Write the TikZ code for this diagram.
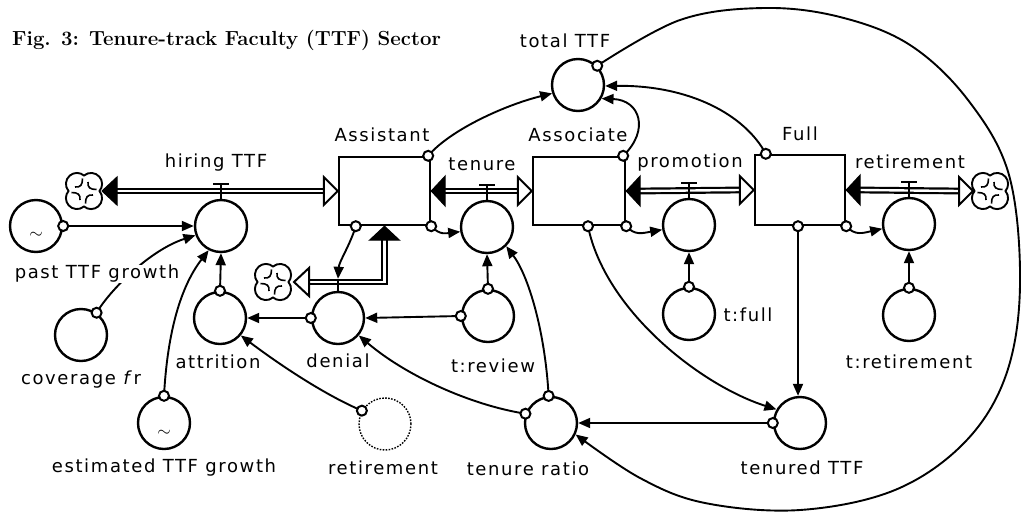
\documentclass[tikz,border=0pt]{standalone}
\usepackage{fontspec}
\newfontfamily\labfont[LetterSpace=9]{DejaVu Sans}
\usetikzlibrary{arrows.meta,calc}
\tikzset{cloudsym/.pic={
  \draw[line width=1.9pt, fill=white] (15.5,0) arc[start angle=-40,end angle=130,radius=11]
     arc[start angle=50,end angle=220,radius=11]
     arc[start angle=140,end angle=310,radius=11]
     arc[start angle=230,end angle=400,radius=11] -- cycle;
  \foreach \r in {0,90,180,270}{
    \draw[line width=1.6pt, rotate=\r] (12.5,-1.5) .. controls (6,-1.5) and (3.5,-3.5) .. (4,-9);
  }
}}
\begin{document}
\begin{tikzpicture}[x=1pt,y=-1pt,
 lab/.style={font=\labfont\fontsize{18}{20}\selectfont, inner sep=0.5pt},
 aux/.style={circle, draw, line width=2.4pt, minimum size=52pt, inner sep=0pt},
 stockbox/.style={rectangle, draw, line width=2.4pt, minimum width=91pt, minimum height=68pt, inner sep=0pt},
 link/.style={line width=1.9pt, -{Triangle[length=12pt,width=10pt]}},
 conn/.style={circle, draw, line width=2pt, fill=white, minimum size=10pt, inner sep=0pt},
 pipe/.style={double, line width=2.2pt, double distance=2.4pt},
 headfull/.style={fill=black, draw=black, line width=1pt, line join=miter},
 headhollow/.style={fill=white, draw=black, line width=2pt, line join=miter},
 valve/.style={line width=2pt},
]
\useasboundingbox (0,0) rectangle (1021,515);

% title
\node[anchor=base west, inner sep=0pt, font=\fontsize{20.4}{24}\selectfont\bfseries] (title) at (12,45) {Fig. 3: Tenure-track Faculty (TTF) Sector};

% stocks
\node[stockbox] (asst) at (384.5,191) {};
\node[stockbox, minimum width=92pt] (assoc) at (579,191) {};
\node[stockbox, minimum width=90pt, minimum height=70pt] (full) at (800,190) {};

% converters
\node[aux] (past) at (36,226) {};
\node[aux] (hire) at (221,226) {};
\node[aux] (cov) at (81,335) {};
\node[aux] (est) at (164,423) {};
\node[aux] (attr) at (220,318) {};
\node[aux] (deny) at (338,318) {};
\node[aux] (ten) at (487,227) {};
\node[aux] (trev) at (488,316) {};
\node[aux, line width=1.4pt, dash pattern=on 1.6pt off 1.4pt] (retA) at (385,424) {};
\node[aux] (ratio) at (551,423) {};
\node[aux] (prom) at (689,225) {};
\node[aux] (tfull) at (689,314) {};
\node[aux] (retF) at (909,224) {};
\node[aux] (tret) at (909,315) {};
\node[aux] (tenured) at (800,423) {};
\node[aux] (total) at (578,85) {};

% tildes
\node[font=\fontsize{18}{18}\selectfont] (tilA) at ($(past)+(0,9)$) {$\sim$};
\node[font=\fontsize{18}{18}\selectfont] (tilB) at ($(est)+(0,10)$) {$\sim$};

% clouds
\coordinate (cl1) at (84,191);
\coordinate (cl2) at (273,282);
\coordinate (cl3) at (990,191);
\pic at (cl1) {cloudsym};
\pic at (cl2) {cloudsym};
\pic at (cl3) {cloudsym};

% pipes
\draw[pipe] ($(cl1)+(33,0)$) -- ($(asst.west)+(-14,0)$);
\draw[headfull] ($(cl1)+(18,0)$) -- ++(15,-14) -- ++(0,28) -- cycle;
\draw[headhollow] (asst.west) -- ++(-14,-14) -- ++(0,28) -- cycle;

\draw[pipe] ($(asst.east)+(14,0)$) -- ($(assoc.west)+(-14,0)$);
\draw[headfull] (asst.east) -- ++(14,-15) -- ++(0,30) -- cycle;
\draw[headhollow] (assoc.west) -- ++(-14,-14) -- ++(0,28) -- cycle;

\draw[pipe] ($(assoc.east)+(14,0)$) -- ($(full.west)+(-14,0)$);
\draw[headfull] (assoc.east) -- ++(14,-15) -- ++(0,30) -- cycle;
\draw[headhollow] (full.west) -- ++(-14,-14) -- ++(0,28) -- cycle;

\draw[pipe] ($(full.east)+(14,0)$) -- ($(cl3)+(-31,0)$);
\draw[headfull] (full.east) -- ++(14,-15) -- ++(0,30) -- cycle;
\draw[headhollow] ($(cl3)+(-17,0)$) -- ++(-14,-14) -- ++(0,28) -- cycle;

\draw[pipe, line join=miter] ($(asst.south)+(0,14)$) |- ($(cl2)+(36,0)$);
\draw[headfull] (asst.south) -- ++(-15,14) -- ++(30,0) -- cycle;
\draw[headhollow] ($(cl2)+(21,0)$) -- ++(15,-14) -- ++(0,28) -- cycle;

% valves
\draw[valve] (hire.north) -- ++(0,-15) ++(-8,0) -- ++(16,0);
\draw[valve] (ten.north) -- ++(0,-15) ++(-8,0) -- ++(16,0);
\draw[valve] (prom.north) -- ++(0,-15) ++(-8,0) -- ++(16,0);
\draw[valve] (retF.north) -- ++(0,-15) ++(-8,0) -- ++(16,0);
\draw[valve] (deny.north) -- ++(0,-12);

% links
\draw[link] (past.east) -- (hire.west);
\draw[link] (cov.55) .. controls (110,290) and (150,250) .. (hire.200);
\draw[link] (est.north) .. controls (167,340) and (178,290) .. (hire.243);
\draw[link] (attr.north) -- (hire.south);
\draw[link] (deny.west) -- (attr.east);
\draw[link] (trev.west) -- (deny.east);
\draw[link] (trev.north) -- (ten.south);
\draw[link] (retA.150) .. controls (325,395) and (280,365) .. (attr.-40);
\draw[link] (ratio.160) .. controls (470,405) and (405,375) .. (deny.-40);
\draw[link] (ratio.95) .. controls (545,330) and (528,275) .. (ten.-45);
\draw[link] (tenured.west) -- (ratio.east);
\draw[link] ($(assoc.south)+(9,0)$) .. controls (605,310) and (700,385) .. (tenured.150);
\draw[link] ($(full.south)+(-2,0)$) -- ($(tenured.north)+(-2,0)$);
\draw[link] (asst.south east) .. controls (440,236) and (448,233) .. (ten.190);
\draw[link] (assoc.south east) .. controls (635,236) and (643,233) .. (prom.190);
\draw[link] (full.south east) .. controls (855,236) and (863,233) .. (retF.190);
\draw[link] (tfull.north) -- (prom.south);
\draw[link] (tret.north) -- (retF.south);
\draw[link] ($(asst.south west)+(18,0)$) .. controls (350,245) and (339,262) .. ($(deny.north)+(0,-12)$);
\draw[link] ($(asst.north east)+(-3,0)$) .. controls (450,130) and (505,105) .. (total.198);
\draw[link] ($(assoc.north east)+(-3,0)$) .. controls (650,130) and (640,100) .. (total.-30);
\draw[link] ($(full.north west)+(12,0)$) .. controls (745,115) and (690,85) .. (total.-2);
\draw[link] plot[smooth, tension=0.6] coordinates {(total.45) (680,20) (764,8) (840,17) (910,45) (968,100) (1009,175) (1020,285) (1006,375) (965,442) (895,490) (800,510) (705,503) (640,478) (ratio.-25)};

% connector sources
\foreach \p in {(past.east),(cov.55),(est.north),(attr.north),(deny.west),(trev.west),(trev.north),(retA.150),(ratio.160),(ratio.95),(tenured.west),(tfull.north),(tret.north),(total.45),(asst.south east),(assoc.south east),(full.south east)}
  \node[conn] at \p {};
\node[conn] at ($(assoc.south)+(9,0)$) {};
\node[conn] at ($(full.south)+(-2,0)$) {};
\node[conn] at ($(asst.south west)+(18,0)$) {};
\node[conn] at ($(asst.north east)+(-3,0)$) {};
\node[conn] at ($(assoc.north east)+(-3,0)$) {};
\node[conn] at ($(full.north west)+(12,0)$) {};

% labels
\node[lab] (lTotal) at (565,41) {total TTF};
\node[lab] (lHire) at (216,163) {hiring TTF};
\node[lab] (lAsst) at (382,135) {Assistant};
\node[lab] (lTen) at (482,164) {tenure};
\node[lab] (lAssoc) at (578,135) {Associate};
\node[lab] (lProm) at (690,163) {promotion};
\node[lab] (lFull) at (800,134) {Full};
\node[lab] (lRetF) at (910,162) {retirement};
\node[lab, fill=white] (lPast) at (97,274) {past TTF growth};
\node[lab] (lCov) at (81,380) {coverage \textit{f}r};
\node[lab] (lAttr) at (218,362) {attrition};
\node[lab] (lDeny) at (338,361) {denial};
\node[lab] (lTrev) at (493,366) {t:review};
\node[lab] (lTfull) at (748,315) {t:full};
\node[lab] (lTret) at (909,362) {t:retirement};
\node[lab] (lEst) at (164,468) {estimated TTF growth};
\node[lab] (lRetA) at (383,468) {retirement};
\node[lab] (lRatio) at (528,469) {tenure ratio};
\node[lab] (lTenured) at (802,468) {tenured TTF};
\end{tikzpicture}
\end{document}
